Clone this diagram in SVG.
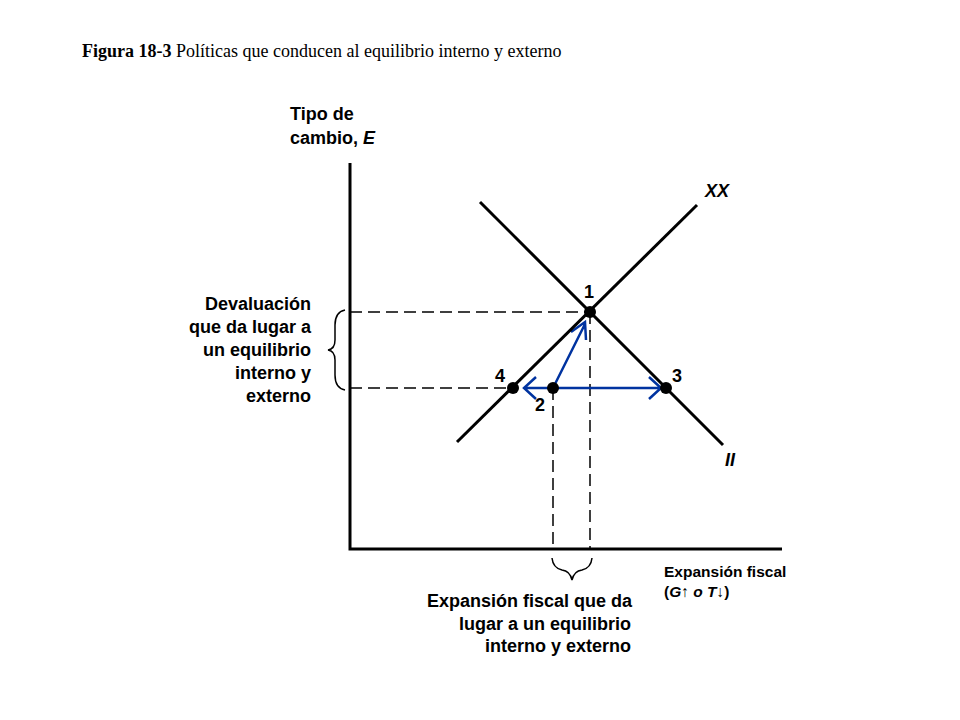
<svg xmlns="http://www.w3.org/2000/svg" width="960" height="720" viewBox="0 0 960 720">
<style>
.t{font-family:"Liberation Sans",Arial,sans-serif;font-weight:bold;font-size:18px;fill:#000}
.s{font-family:"Liberation Sans",Arial,sans-serif;font-weight:bold;font-size:15.5px;fill:#000}
.d{stroke:#000;stroke-width:1.5;stroke-dasharray:12,6;fill:none}
.l{stroke:#000;stroke-width:3;fill:none}
.b{stroke:#0033a0;stroke-width:2.5;fill:none}
</style>
<rect width="960" height="720" fill="#fff"/>
<text x="82" y="57" font-family="Liberation Serif,serif" font-size="18"><tspan font-weight="bold">Figura 18-3</tspan>  Políticas que conducen al equilibrio interno y externo</text>
<g id="axes">
<path class="l" d="M350,163 V549 H782"/>
<text class="t" x="290" y="120">Tipo de</text>
<text class="t" x="290" y="144">cambio, <tspan font-style="italic">E</tspan></text>
<text class="s" x="664" y="577">Expansión fiscal</text>
<text class="s" x="664" y="597">(<tspan font-style="italic">G</tspan>↑ <tspan font-style="italic">o T</tspan>↓)</text>
</g>
<g id="connectors">
<path class="d" d="M350,312 H590 M350,388 H513 M590,312 V549 M553,388 V549"/>
<path class="b" d="M553,388 L585,324 M571,332 L585,322 L586,340"/>
<path class="b" d="M524,388 H661 M536,377 L524,388 L536,399 M649,377 L661,388 L649,399"/>
</g>
<g id="II"><path class="l" stroke-width="2.5" d="M480,202 L723,445"/><text class="t" x="725" y="466" font-style="italic">II</text></g>
<g id="XX"><path class="l" stroke-width="2.5" d="M457,442 L697,205"/><text class="t" x="705" y="197" font-style="italic">XX</text></g>
<g id="p1"><circle cx="590" cy="312" r="6"/><text class="t" x="584" y="298">1</text></g>
<g id="p2"><circle cx="553" cy="388" r="6"/><text class="t" x="535" y="411">2</text></g>
<g id="p3"><circle cx="666" cy="388" r="6"/><text class="t" x="672" y="382">3</text></g>
<g id="p4"><circle cx="513" cy="388" r="6"/><text class="t" x="495" y="382">4</text></g>
<g id="leftBrace">
<path stroke="#000" stroke-width="1.5" fill="none" d="M345,310 Q335,312 335,325 V340 Q335,349 328,350 Q335,351 335,360 V375 Q335,388 345,390"/>
<g class="t" text-anchor="end"><text x="311" y="310">Devaluación</text><text x="311" y="333">que da lugar a</text><text x="311" y="356">un equilibrio</text><text x="311" y="379">interno y</text><text x="311" y="402">externo</text></g>
</g>
<g id="bottomBrace">
<path stroke="#000" stroke-width="1.5" fill="none" d="M552,558 Q553,568 562,570 Q570,571 572,580 Q574,571 582,570 Q591,568 592,558"/>
<g class="t" text-anchor="end"><text x="632" y="607">Expansión fiscal que da</text><text x="631" y="630">lugar a un equilibrio</text><text x="631" y="652">interno y externo</text></g>
</g>
</svg>
